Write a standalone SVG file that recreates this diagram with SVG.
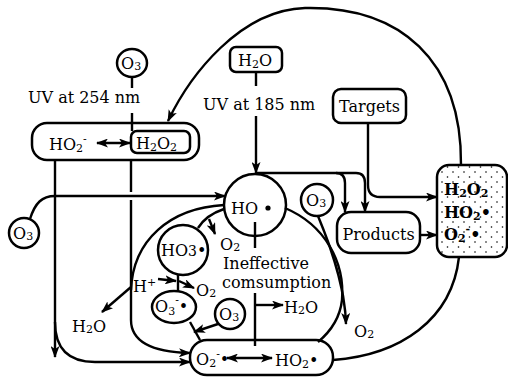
<svg xmlns="http://www.w3.org/2000/svg" width="508" height="379" viewBox="0 0 508 379">
<defs>
<marker id="ah" viewBox="0 0 12 9" refX="11" refY="4.5" markerWidth="12" markerHeight="9" markerUnits="userSpaceOnUse" orient="auto-start-reverse"><path d="M0,0 L12,4.5 L0,9 L3,4.5 z" fill="#000"/></marker>
<pattern id="dots" width="11" height="10" patternUnits="userSpaceOnUse"><circle cx="2" cy="2" r="0.8" fill="#000"/><circle cx="7.5" cy="7" r="0.8" fill="#000"/></pattern>
</defs>
<style>
.n{fill:#fff;stroke:#000;stroke-width:2.5}
.c{fill:none;stroke:#000;stroke-width:2.4}
.t{font-family:"DejaVu Serif","Liberation Serif",serif;font-size:16px;fill:#000}
.b{font-weight:bold}
.s{font-size:11px}
.m{text-anchor:middle}
</style>
<rect width="508" height="379" fill="#fff"/>
<g id="o3-top"><ellipse class="n" cx="132" cy="63" rx="15" ry="14"/><text class="t" x="121" y="69">O<tspan class="s" dy="1">3</tspan></text></g>
<g id="uv254"><text class="t" x="28" y="103">UV at 254 nm</text></g>
<g id="h2o2-box"><rect class="n" x="32" y="123" width="167" height="37" rx="15"/><rect class="n" x="131" y="131" width="59" height="22" rx="6"/>
<text class="t" x="49" y="150">HO<tspan class="s" dy="2">2</tspan><tspan class="s" dy="-9">-</tspan></text>
<text class="t" x="136" y="149">H<tspan class="s" dy="2">2</tspan><tspan dy="-2">O</tspan><tspan class="s" dy="2">2</tspan></text></g>
<g id="h2o-top"><rect class="n" x="230" y="47" width="52" height="25" rx="6"/><text class="t" x="238" y="66">H<tspan class="s" dy="2">2</tspan><tspan dy="-2">O</tspan></text></g>
<g id="uv185"><text class="t" x="203" y="110">UV at 185 nm</text></g>
<g id="targets"><rect class="n" x="333" y="89" width="73" height="34" rx="8"/><text class="t m" x="369.5" y="112">Targets</text></g>
<g id="ho"><circle class="n" cx="255" cy="205" r="31"/><text class="t" x="231" y="214">HO</text><circle cx="268" cy="208" r="2.6" fill="#000"/></g>
<g id="o3-right"><circle class="n" cx="317" cy="200" r="16"/><text class="t" x="306" y="206">O<tspan class="s" dy="1">3</tspan></text></g>
<g id="products"><rect class="n" x="337" y="212" width="83" height="41" rx="14"/><text class="t m" x="378.5" y="240">Products</text></g>
<g id="radicals"><rect x="437" y="165" width="70" height="92" rx="12" fill="url(#dots)" stroke="#000" stroke-width="2.5"/>
<text class="t b" x="444" y="195">H<tspan class="s" dy="2">2</tspan><tspan dy="-2">O</tspan><tspan class="s" dy="2">2</tspan></text>
<text class="t b" x="444" y="218">HO<tspan class="s" dy="2">2</tspan><tspan dy="-2">•</tspan></text>
<text class="t b" x="444" y="240">O<tspan class="s" dy="2">2</tspan><tspan class="s" dy="-9">-</tspan><tspan dy="7">•</tspan></text></g>
<g id="ho3"><circle class="n" cx="183" cy="250" r="25"/><text class="t" x="161" y="256">HO<tspan font-size="14">3</tspan>•</text></g>
<g id="o3-radical"><ellipse class="n" cx="174" cy="307" rx="22" ry="16"/><text class="t" x="155" y="312">O<tspan class="s" dy="3">3</tspan><tspan class="s" dy="-11">-</tspan><tspan dy="8">•</tspan></text></g>
<g id="o3-bottom"><circle class="n" cx="230" cy="314" r="15"/><text class="t" x="219" y="320">O<tspan class="s" dy="1">3</tspan></text></g>
<g id="o2-ho2"><rect class="n" x="190" y="340" width="143" height="35" rx="17"/>
<text class="t" x="196" y="365">O<tspan class="s" dy="2">2</tspan><tspan class="s" dy="-9">-</tspan><tspan dy="7">•</tspan></text>
<text class="t" x="275" y="366">HO<tspan class="s" dy="2">2</tspan><tspan dy="-2">•</tspan></text></g>
<g id="o3-left"><circle class="n" cx="24" cy="233" r="15"/><text class="t" x="13" y="239">O<tspan class="s" dy="1">3</tspan></text></g>
<g id="connectors">
<path class="c" d="M461,165 C462,60 400,6 305,8 C240,10 190,75 168,121" marker-end="url(#ah)"/>
<path class="c" d="M132,77 L132,88 M132,113 L132,131"/>
<path class="c" d="M256,72 L256,86"/>
<path class="c" d="M256,116 L256,173" marker-end="url(#ah)"/>
<path class="c" d="M256,173 L336,173 Q345,173 345,183 L345,212" marker-end="url(#ah)"/>
<path class="c" d="M336,173 L356,173 Q365,173 365,183 L365,212" marker-end="url(#ah)"/>
<path class="c" d="M368,123 L368,185 Q368,197 380,197 L437,197" marker-end="url(#ah)"/>
<path class="c" d="M420,235 L437,235" marker-end="url(#ah)"/>
<path class="c" d="M459,257 C452,320 400,355 333,360"/>
<path class="c" d="M285,208 C325,225 345,262 342,300 C340,318 330,332 318,342"/>
<path class="c" d="M318,216 C330,245 345,285 346,324" marker-end="url(#ah)"/>
<path class="c" d="M227,358 L272,358" marker-start="url(#ah)" marker-end="url(#ah)"/>
<path class="c" d="M97,143 L130,143" marker-start="url(#ah)" marker-end="url(#ah)"/>
<path class="c" d="M255,222 L255,248 M255,293 L255,346"/>
<path class="c" d="M255,305 L283,305" marker-end="url(#ah)"/>
<path class="c" d="M224,209 C212,213 203,220 198,228"/>
<path class="c" d="M209,219 L215,234" marker-end="url(#ah)"/>
<path class="c" d="M224,205 C170,208 133,240 131,290"/>
<path class="c" d="M131,160 L131,192 M131,200 L131,320 C131,340 150,352 190,353" marker-end="url(#ah)"/>
<path class="c" d="M55,160 L55,357" marker-end="url(#ah)"/>
<path class="c" d="M55,322 C55,350 70,362 95,362 L190,362" marker-end="url(#ah)"/>
<path class="c" d="M30,219 C35,203 42,196 55,196 L225,196" marker-end="url(#ah)"/>
<path class="c" d="M178,275 L178,291"/>
<path class="c" d="M158,279 L176,281" marker-end="url(#ah)"/>
<path class="c" d="M179,281 L194,288" marker-end="url(#ah)"/>
<path class="c" d="M190,322 L200,340"/>
<path class="c" d="M218,324 L194,332" marker-end="url(#ah)"/>
<path class="c" d="M131,287 L102,312" marker-end="url(#ah)"/>
</g>
<g id="labels">
<text class="t" x="220" y="250">O<tspan class="s" dy="1">2</tspan></text>
<text class="t" x="223" y="269">Ineffective</text>
<text class="t" x="222" y="288">comsumption</text>
<text class="t" x="133" y="292">H<tspan class="s" dy="-6">+</tspan></text>
<text class="t" x="196" y="296">O<tspan class="s" dy="1">2</tspan></text>
<text class="t" x="72" y="332">H<tspan class="s" dy="1">2</tspan><tspan dy="-1">O</tspan></text>
<text class="t" x="284" y="313">H<tspan class="s" dy="1">2</tspan><tspan dy="-1">O</tspan></text>
<text class="t" x="354" y="337">O<tspan class="s" dy="1">2</tspan></text>
</g>
</svg>
